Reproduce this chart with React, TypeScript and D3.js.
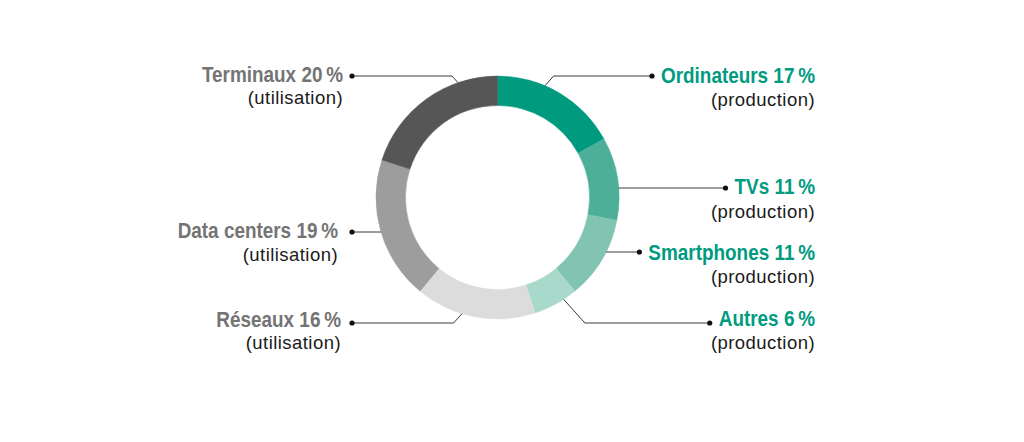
import React, { useEffect, useRef } from "react";
import * as d3 from "d3";

const categories = ["Ordinateurs", "TVs", "Smartphones", "Autres", "Réseaux", "Data centers", "Terminaux"];
const values = [17, 11, 11, 6, 16, 19, 20];
const phases = ["production", "production", "production", "production", "utilisation", "utilisation", "utilisation"];
const colors = ["#009b7f", "#4daf9a", "#80c4b1", "#a9d9ca", "#dcdcdc", "#9d9d9d", "#565656"];

// label layout (positions only)
const labelLayout = [
  { side: "right", lineY: 76, anchorDeg: 23, titleY: 83, subY: 106, textX: 815 },
  { side: "right", lineY: 188, anchorDeg: null, titleY: 194, subY: 218, textX: 815 },
  { side: "right", lineY: 252, anchorDeg: null, titleY: 260, subY: 283, textX: 815 },
  { side: "right", lineY: 323, anchorDeg: 147, titleY: 326, subY: 349, textX: 815 },
  { side: "left", lineY: 323, anchorDeg: 197, titleY: 327, subY: 349, textX: 341 },
  { side: "left", lineY: 232, anchorDeg: null, titleY: 238, subY: 261, textX: 338 },
  { side: "left", lineY: 76, anchorDeg: 341, titleY: 82, subY: 104, textX: 343 },
];

const CX = 497.5;
const CY = 197.5;
const R_OUT = 121.5;
const R_IN = 92;
const LEFT_DOT_X = 352;
const TITLE_SCALE = 0.86;

export default function App() {
  const ref = useRef<SVGSVGElement | null>(null);

  useEffect(() => {
    const svg = d3.select(ref.current);
    svg.selectAll("*").remove();

    const data = categories.map((c, i) => ({ name: c, value: values[i], phase: phases[i], color: colors[i], layout: labelLayout[i] }));

    const pie = d3.pie<any>().sort(null).value((d) => d.value).startAngle(0).endAngle(2 * Math.PI);
    const arc = d3.arc<any>().innerRadius(R_IN).outerRadius(R_OUT);

    const g = svg.append("g").attr("transform", `translate(${CX},${CY})`);
    g.selectAll("path")
      .data(pie(data))
      .join("path")
      .attr("d", arc)
      .attr("fill", (d: any) => d.data.color)
      .attr("stroke", (d: any) => d.data.color)
      .attr("stroke-width", 0.5);

    const titleFont = "'Liberation Sans', Arial, sans-serif";
    const subFont = "'Liberation Sans', Arial, sans-serif";

    data.forEach((d) => {
      const L = d.layout;
      const isRight = L.side === "right";
      const titleColor = d.phase === "production" ? "#009b7f" : "#747474";

      const title = svg
        .append("g")
        .attr("transform", `translate(${L.textX},${L.titleY}) scale(${TITLE_SCALE},1)`)
        .append("text")
        .attr("x", 0)
        .attr("y", 0)
        .attr("text-anchor", "end")
        .attr("font-family", titleFont)
        .attr("font-weight", "bold")
        .attr("font-size", 22)
        .attr("fill", titleColor)
        .text(`${d.name} ${d.value}\u202f%`);

      svg
        .append("text")
        .attr("x", L.textX)
        .attr("y", L.subY)
        .attr("text-anchor", "end")
        .attr("font-family", subFont)
        .attr("font-size", 18.5)
        .attr("letter-spacing", 0.45)
        .attr("fill", "#1a1a1a")
        .text(`(${d.phase})`);

      const tw = (title.node() as SVGTextElement).getComputedTextLength() * TITLE_SCALE;
      const dotX = isRight ? L.textX - tw - 9 : LEFT_DOT_X;

      // anchor point on outer circle
      let sx: number, sy: number;
      if (L.anchorDeg == null) {
        sy = L.lineY;
        const dy = sy - CY;
        const dx = Math.sqrt(R_OUT * R_OUT - dy * dy);
        sx = CX + (isRight ? dx : -dx);
      } else {
        const a = (L.anchorDeg * Math.PI) / 180;
        sx = CX + R_OUT * Math.sin(a);
        sy = CY - R_OUT * Math.cos(a);
      }
      const ddy = Math.abs(L.lineY - sy);
      const ex = sx + (isRight ? 1 : -1) * ddy * 0.9;
      const pts: [number, number][] = [[sx, sy], [ex, L.lineY], [dotX, L.lineY]];
      svg
        .append("path")
        .attr("d", d3.line()(pts))
        .attr("fill", "none")
        .attr("stroke", "#3a3a3a")
        .attr("stroke-width", 1);
      svg.append("circle").attr("cx", dotX).attr("cy", L.lineY).attr("r", 2.6).attr("fill", "#111");
    });
  }, []);

  return (
    <svg
      ref={ref}
      width={1024}
      height={442}
      style={{ position: "absolute", left: 0, top: 0, background: "#fff" }}
    />
  );
}
